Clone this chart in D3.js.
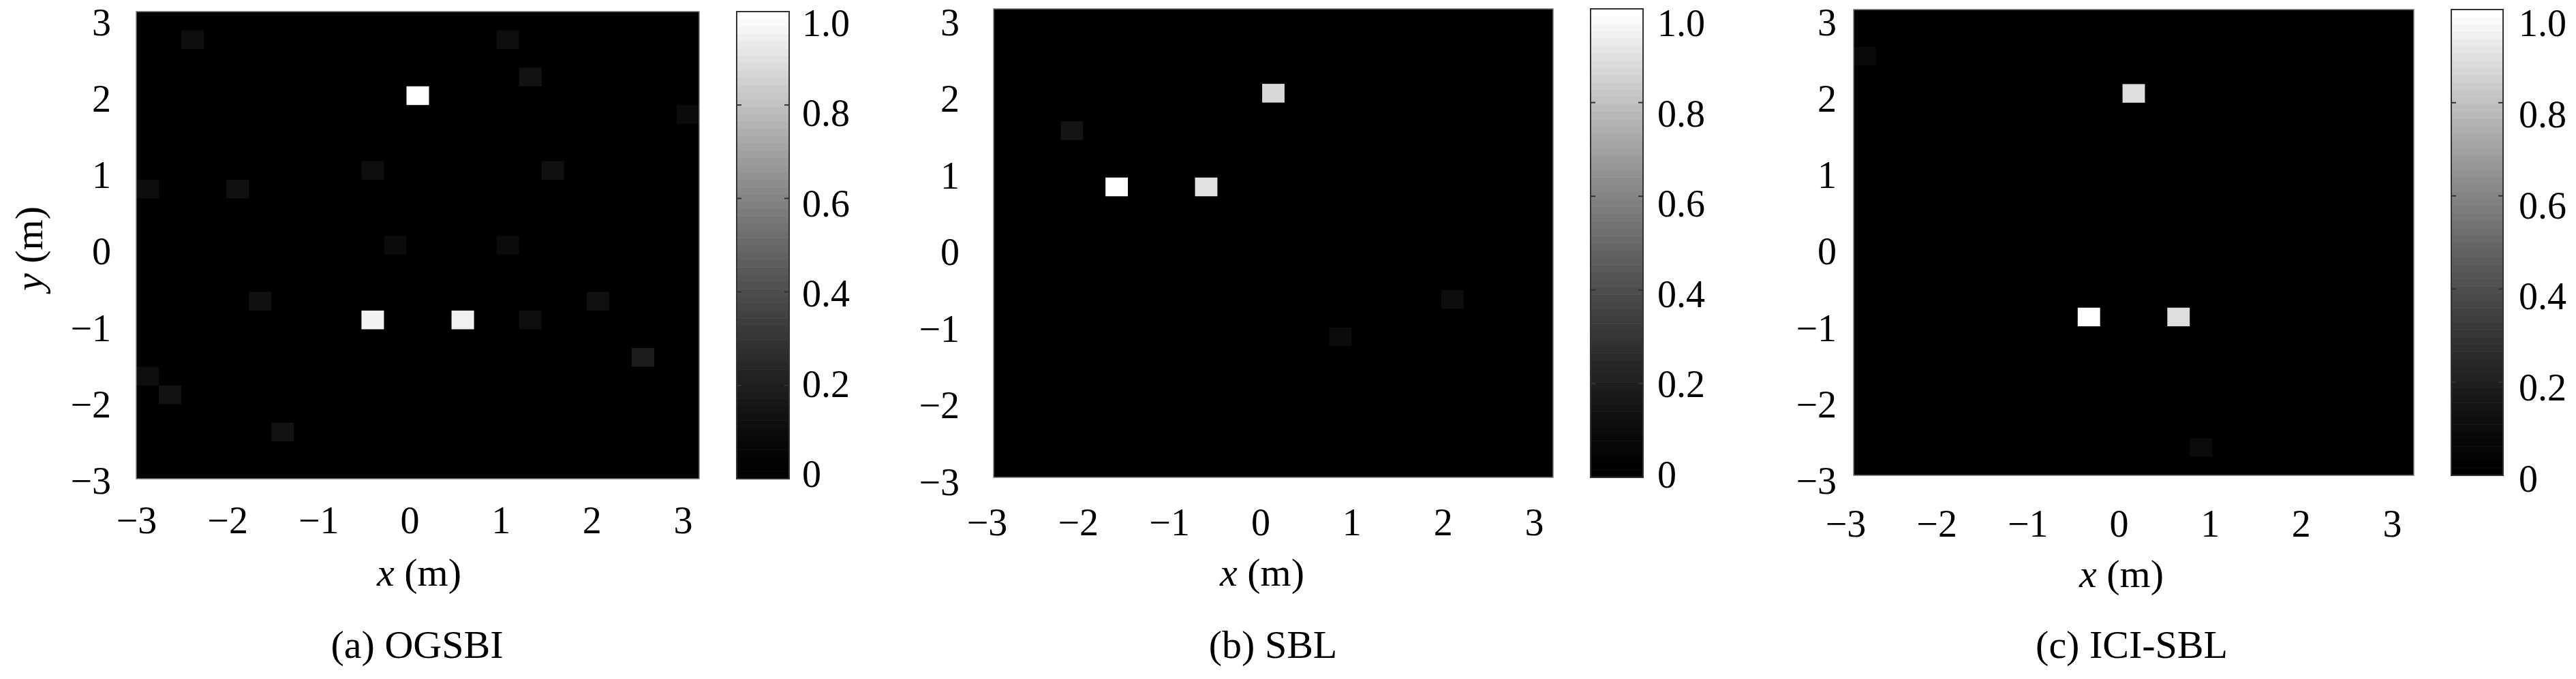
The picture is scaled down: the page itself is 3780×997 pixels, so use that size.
<!DOCTYPE html>
<html>
<head>
<meta charset="utf-8">
<script src="https://cdn.jsdelivr.net/npm/d3@7"></script>
<style>
  html, body { margin: 0; padding: 0; background: #fff; }
  text { font-family: "Liberation Serif", "DejaVu Serif", serif; fill: #000; }
</style>
</head>
<body>
<svg id="chart" width="3780" height="997"></svg>
<script>
// ---------------- data ----------------
const xTicks = [-3, -2, -1, 0, 1, 2, 3];
const yTicks = [-3, -2, -1, 0, 1, 2, 3];
const cbarTicks = [0, 0.2, 0.4, 0.6, 0.8, 1.0];
const panelTitles = ["(a) OGSBI", "(b) SBL", "(c) ICI-SBL"];
const axisExtent = [-3.125, 3.125];   // 25 x 25 grid, 0.25 m cells
const cellSize = 0.25;

// (a) OGSBI – non-zero grid cells
const ogsbiX = [-2.5, 1.0, 1.25, 0.0, 3.0, -0.5, 1.5, -3.0, -2.0, -0.25, 1.0, -1.75, 2.0, -0.5, 0.5, 1.25, 2.5, -3.0, -2.75, -1.5];
const ogsbiY = [2.75, 2.75, 2.25, 2.0, 1.75, 1.0, 1.0, 0.75, 0.75, 0.0, 0.0, -0.75, -0.75, -1.0, -1.0, -1.0, -1.5, -1.75, -2.0, -2.5];
const ogsbiV = [0.11, 0.11, 0.13, 1.0, 0.09, 0.11, 0.12, 0.10, 0.12, 0.09, 0.09, 0.12, 0.12, 0.96, 0.95, 0.11, 0.19, 0.11, 0.13, 0.13];

// (b) SBL
const sblX = [-2.25, 0.0, -1.75, -0.75, 2.0, 0.75];
const sblY = [1.5, 2.0, 0.75, 0.75, -0.75, -1.25];
const sblV = [0.14, 0.88, 1.0, 0.91, 0.10, 0.09];

// (c) ICI-SBL
const iciX = [-3.0, 0.0, -0.5, 0.5, 0.75];
const iciY = [2.5, 2.0, -1.0, -1.0, -2.75];
const iciV = [0.08, 0.90, 1.0, 0.90, 0.09];

// ---------------- layout ----------------
const panels = [
  { xs: ogsbiX, ys: ogsbiY, vs: ogsbiV, title: panelTitles[0],
    plot: [200, 1026, 17, 703], cbar: [1081, 1158],
    xLab: [200, 1002], xLabY: 765, yLab: [706, 33], yLabRight: 163,
    cbLabLeft: 1177, cbLab: [696, 34], xTitle: [615, 860], sub: [612, 966], yTitle: true },
  { xs: sblX, ys: sblY, vs: sblV, title: panelTitles[1],
    plot: [1458, 2279, 13, 701], cbar: [2334, 2411],
    xLab: [1448, 2251], xLabY: 768, yLab: [708, 33], yLabRight: 1408,
    cbLabLeft: 2432, cbLab: [697, 34], xTitle: [1852, 860], sub: [1868, 966], yTitle: false },
  { xs: iciX, ys: iciY, vs: iciV, title: panelTitles[2],
    plot: [2720, 3542, 14, 698], cbar: [3597, 3673],
    xLab: [2708, 3510], xLabY: 770, yLab: [706, 33], yLabRight: 2695,
    cbLabLeft: 3696, cbLab: [703, 34], xTitle: [3113, 862], sub: [3128, 966], yTitle: false }
];

const tickFont = 56, titleFont = 58;
const color = d3.scalePow().exponent(1.3).domain([0, 1]).range(["#000000", "#ffffff"]).clamp(true);
const nLevels = 64;

const svg = d3.select("#chart");
svg.append("rect").attr("width", 3780).attr("height", 997).attr("fill", "#fff");

panels.forEach(p => {
  const [px0, px1, py0, py1] = p.plot;
  const x = d3.scaleLinear().domain(axisExtent).range([px0, px1]);
  const y = d3.scaleLinear().domain(axisExtent).range([py1, py0]);
  const g = svg.append("g");

  // background (value 0)
  g.append("rect")
    .attr("x", px0).attr("y", py0).attr("width", px1 - px0).attr("height", py1 - py0)
    .attr("fill", color(0));

  // cells
  const cells = p.xs.map((xv, i) => ({ x: xv, y: p.ys[i], v: p.vs[i] }));
  g.selectAll("rect.cell").data(cells).enter().append("rect")
    .attr("class", "cell")
    .attr("x", d => x(d.x - cellSize / 2))
    .attr("y", d => y(d.y + cellSize / 2))
    .attr("width", d => x(d.x + cellSize / 2) - x(d.x - cellSize / 2))
    .attr("height", d => y(d.y - cellSize / 2) - y(d.y + cellSize / 2))
    .attr("fill", d => color(d.v));

  // plot frame
  g.append("rect")
    .attr("x", px0).attr("y", py0).attr("width", px1 - px0).attr("height", py1 - py0)
    .attr("fill", "none").attr("stroke", "#7a7a7a").attr("stroke-width", 1.5);

  // x tick labels
  const xl = d3.scaleLinear().domain([xTicks[0], xTicks[xTicks.length - 1]]).range(p.xLab);
  const gx = g.append("g").attr("transform", `translate(0,${p.xLabY + tickFont * 0.33})`)
    .call(d3.axisBottom(xl).tickValues(xTicks).tickSize(0).tickPadding(0).tickFormat(d3.format("d")));
  gx.select(".domain").remove();
  gx.selectAll("text").attr("y", 0).attr("dy", null)
    .style("font-size", tickFont + "px").style("font-family", "Liberation Serif, serif").attr("fill", "#000");

  // y tick labels
  const yl = d3.scaleLinear().domain([yTicks[0], yTicks[yTicks.length - 1]]).range(p.yLab);
  const gy = g.append("g").attr("transform", `translate(${p.yLabRight},0)`)
    .call(d3.axisLeft(yl).tickValues(yTicks).tickSize(0).tickPadding(0).tickFormat(d3.format("d")));
  gy.select(".domain").remove();
  gy.selectAll("text").attr("x", 0).attr("dy", "0.33em")
    .style("font-size", tickFont + "px").style("font-family", "Liberation Serif, serif").attr("fill", "#000");

  // colorbar
  const [cx0, cx1] = p.cbar;
  const cy = d3.scaleLinear().domain([0, 1]).range([py1, py0]);
  const bands = d3.range(nLevels).map(k => ({ lo: k / nLevels, hi: (k + 1) / nLevels, v: k / (nLevels - 1) }));
  g.selectAll("rect.band").data(bands).enter().append("rect")
    .attr("class", "band")
    .attr("x", cx0).attr("width", cx1 - cx0)
    .attr("y", d => cy(d.hi)).attr("height", d => cy(d.lo) - cy(d.hi) + 0.6)
    .attr("fill", d => color(d.v));
  g.append("rect")
    .attr("x", cx0).attr("y", py0).attr("width", cx1 - cx0).attr("height", py1 - py0)
    .attr("fill", "none").attr("stroke", "#333").attr("stroke-width", 2);
  const inner = cbarTicks.filter(t => t > 0 && t < 1);
  g.selectAll("line.cbl").data(inner).enter().append("line")
    .attr("x1", cx0).attr("x2", cx0 + 7).attr("y1", d => cy(d)).attr("y2", d => cy(d))
    .attr("stroke", "#333").attr("stroke-width", 2);
  g.selectAll("line.cbr").data(inner).enter().append("line")
    .attr("x1", cx1 - 7).attr("x2", cx1).attr("y1", d => cy(d)).attr("y2", d => cy(d))
    .attr("stroke", "#333").attr("stroke-width", 2);

  // colorbar labels
  const cl = d3.scaleLinear().domain([0, 1]).range(p.cbLab);
  const gc = g.append("g").attr("transform", `translate(${p.cbLabLeft},0)`)
    .call(d3.axisRight(cl).tickValues(cbarTicks).tickSize(0).tickPadding(0)
      .tickFormat(v => v === 0 ? "0" : d3.format(".1f")(v)));
  gc.select(".domain").remove();
  gc.selectAll("text").attr("x", 0).attr("dy", "0.33em")
    .style("font-size", tickFont + "px").style("font-family", "Liberation Serif, serif").attr("fill", "#000");

  // x axis title
  const xt = g.append("text").attr("x", p.xTitle[0]).attr("y", p.xTitle[1])
    .attr("text-anchor", "middle").style("font-size", titleFont + "px");
  xt.append("tspan").style("font-style", "italic").text("x");
  xt.append("tspan").text(" (m)");

  // y axis title
  if (p.yTitle) {
    const yt = g.append("text").attr("transform", `translate(${47 + titleFont * 0.25},365) rotate(-90)`)
      .attr("text-anchor", "middle").style("font-size", titleFont + "px");
    yt.append("tspan").style("font-style", "italic").text("y");
    yt.append("tspan").text(" (m)");
  }

  // subfigure caption
  g.append("text").attr("x", p.sub[0]).attr("y", p.sub[1])
    .attr("text-anchor", "middle").style("font-size", titleFont + "px").text(p.title);
});
</script>
</body>
</html>
